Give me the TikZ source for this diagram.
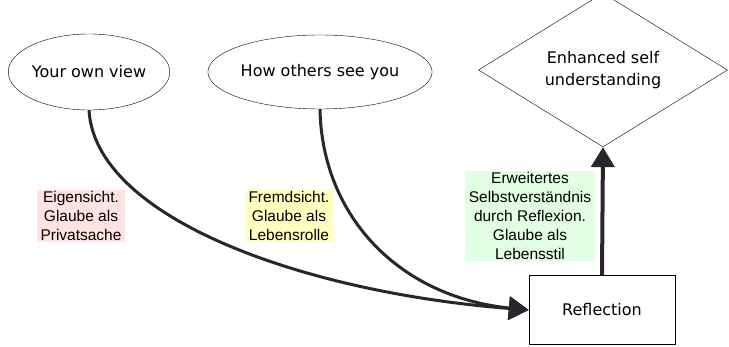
\documentclass[tikz,border=0pt]{standalone}
\usepackage{fontspec}
\setmainfont{Liberation Sans}
\newfontfamily\shapefont{DejaVu Sans}
\usetikzlibrary{shapes.geometric, arrows.meta}
\definecolor{pinkbg}{RGB}{255,226,226}
\definecolor{yellowbg}{RGB}{255,255,192}
\definecolor{greenbg}{RGB}{226,255,228}
\definecolor{ink}{RGB}{40,38,45}

\begin{document}
\begin{tikzpicture}[x=1pt, y=1pt,
  view/.style={ellipse, draw, thin, inner sep=0pt, font=\shapefont\fontsize{16}{19}\selectfont},
  note/.style={align=center, inner xsep=4pt, inner ysep=1pt, font=\fontsize{15.5}{19}\selectfont},
  flow/.style={draw=ink, line width=3pt, -{Triangle[width=23pt,length=20pt]}}]
  \useasboundingbox (0,0) rectangle (729,347);
  % views
  \node[view, minimum width=158pt, minimum height=76pt] (own) at (89,275) {Your own view};
  \node[view, minimum width=204pt, minimum height=74pt] (others) at (320,275) {How others see you};
  % goal
  \node[diamond, draw, thin, inner sep=0pt, minimum width=249pt, minimum height=122pt,
        align=center, font=\shapefont\fontsize{16}{22}\selectfont] (goal) at (603,277)
        {Enhanced self\\understanding};
  % reflection
  \node[draw, thin, minimum width=146pt, minimum height=69pt,
        font=\shapefont\fontsize{16}{19}\selectfont] (refl) at (602,37) {Reflection};
  % notes
  \node[note, fill=pinkbg] (eigen) at (81,131) {Eigensicht.\\Glaube als\\Privatsache};
  \node[note, fill=yellowbg] (fremd) at (289,131) {Fremdsicht.\\Glaube als\\Lebensrolle};
  \node[note, fill=greenbg] (erw) at (530,131) {Erweitertes\\Selbstverständnis\\durch Reflexion.\\Glaube als\\Lebensstil};
  % arrows
  \draw[flow] (own.south) .. controls (95,130) and (300,55) .. (refl.west);
  \draw[flow] (others.south) .. controls (322,130) and (400,50) .. (refl.west);
  \draw[flow, line width=4pt] (refl.north) -- (goal.south);
\end{tikzpicture}
\end{document}
